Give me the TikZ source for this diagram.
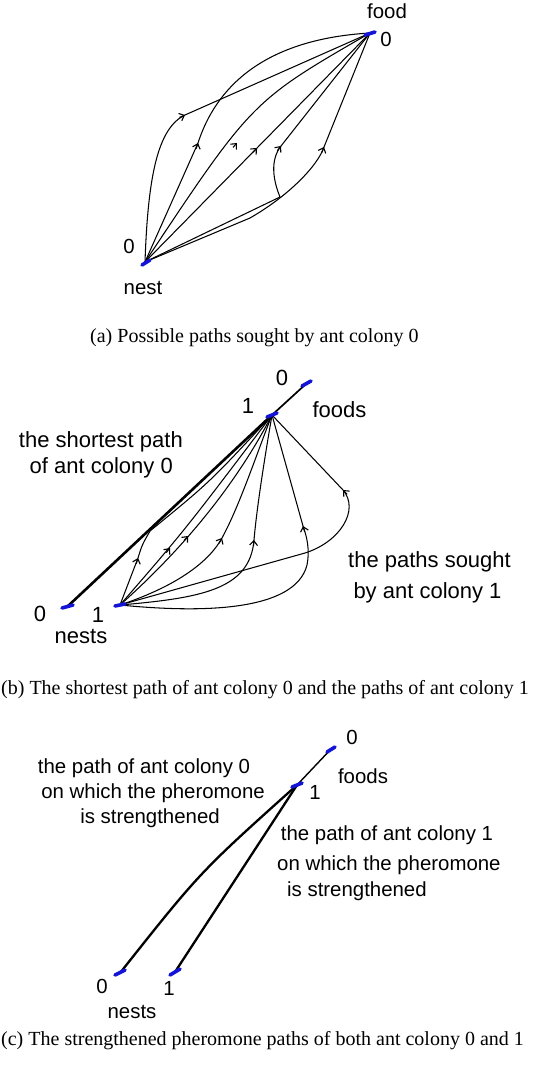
\documentclass[tikz,border=0pt]{standalone}
\usepackage{fontspec}
\setmainfont{Liberation Serif}
\newfontfamily\lblfont{Liberation Sans}
\usetikzlibrary{arrows.meta,calc}
\definecolor{dotblue}{RGB}{20,20,215}
\tikzset{
  pathline/.style={line width=1.05pt,black},
  antarrow/.style={line width=1.1pt,-{Straight Barb[length=4.5pt,width=8pt]}},
  bluedot/.style={line width=3.6pt,dotblue,line cap=round},
  lblA/.style={font=\lblfont\fontsize{20.4}{24}\selectfont,inner sep=0pt,anchor=base},
  lblB/.style={font=\lblfont\fontsize{22}{26}\selectfont,inner sep=0pt,anchor=base},
  captxt/.style={font=\fontsize{20}{24}\selectfont,inner sep=0pt,anchor=base west},
}
\newcommand\antarr[2]{\draw[antarrow] ($(#1)!-6pt!(#2)$) -- (#1);}
\begin{document}
\begin{tikzpicture}[x=1pt,y=-1pt]
\useasboundingbox (0,0) rectangle (548,1065);
\fill[white] (0,0) rectangle (548,1065);

% ---------------- panel (a)
\coordinate (fa) at (370,33);
\coordinate (na) at (145,262);
\draw[pathline] (na) .. controls (148,175) and (158,128) .. (185,115) -- (fa);
\antarr{185,115}{fa}
\draw[pathline] (na) -- (198,143) .. controls (212,100) and (250,40) .. (fa);
\antarr{198,143}{212,100}
\draw[pathline] (na) .. controls (252,101) .. (fa);
\antarr{237,143}{259,119}
\draw[pathline] (na) -- (fa);
\antarr{257,148}{fa}
\draw[pathline] (na) -- (280,197) .. controls (273,180) and (270,160) .. (281,146) -- (fa);
\antarr{281,146}{fa}
\draw[pathline] (na) -- (250,218) .. controls (290,195) and (318,165) .. (324,147) -- (fa);
\antarr{324,147}{fa}
\draw[bluedot] (365,35) -- (375,32);
\draw[bluedot] (142,265) -- (150,260);
\node[lblA] (foodA) at (387,18.5) {food};
\node[lblA] (zfA) at (386,47) {0};
\node[lblA] (znA) at (129,253) {0};
\node[lblA] (nestA) at (143,294) {nest};
\node[captxt] (capA) at (90,342) {(a) Possible paths sought by ant colony 0};

% ---------------- panel (b)
\coordinate (fb0) at (307,383);
\coordinate (fb1) at (272,415);
\coordinate (nb0) at (68,606);
\coordinate (nb1) at (120,605);
\draw[line width=1.7pt] (fb0) -- (fb1);
\draw[line width=2.6pt] (fb1) -- (nb0);
\draw[pathline] (nb1) -- (138,558) .. controls (142,545) .. (150,531) .. controls (210,482) .. (fb1);
\antarr{138,558}{142,545}
\draw[pathline] (nb1) .. controls (185,530) .. (fb1);
\antarr{170,548}{184.5,530}
\draw[pathline] (nb1) .. controls (165,565) and (228,500) .. (fb1);
\antarr{188,536}{215,505}
\draw[pathline] (nb1) .. controls (180,585) and (210,560) .. (222,538) .. controls (240,505) and (258,450) .. (fb1);
\antarr{222,538}{240,505}
\draw[pathline] (nb1) .. controls (200,598) and (250,590) .. (254,540) .. controls (257,505) and (266,450) .. (fb1);
\antarr{254,540}{257,505}
\draw[pathline] (nb1) .. controls (200,613) and (295,612) .. (307,565) .. controls (310,550) and (307,537) .. (303,526) -- (fb1);
\antarr{303,526}{fb1}
\draw[pathline] (nb1) -- (305,553) .. controls (340,542) and (360,510) .. (343,490) -- (fb1);
\antarr{343,490}{fb1}
\draw[bluedot] (302,386) -- (311,381);
\draw[bluedot] (267,417) -- (277,413);
\draw[bluedot] (62,608) -- (73,605);
\draw[bluedot] (115,606) -- (125,604);
\node[lblB] (zfB) at (282,385) {0};
\node[lblB] (ofB) at (248,413) {1};
\node[lblB] (foodsB) at (339.5,417) {foods};
\node[lblB,anchor=base east] (sp1) at (183,447) {the shortest path};
\node[lblB,anchor=base east] (sp2) at (173,473) {of ant colony 0};
\node[lblB] (ps1) at (429.5,567) {the paths sought};
\node[lblB] (ps2) at (427.5,598) {by ant colony 1};
\node[lblB] (znB) at (40,621) {0};
\node[lblB] (onB) at (98,622) {1};
\node[lblB] (nestsB) at (81,643) {nests};
\node[captxt] (capB) at (1,694) {(b) The shortest path of ant colony 0 and the paths of ant colony 1};

% ---------------- panel (c)
\coordinate (fc0) at (332,748);
\coordinate (fc1) at (297,785);
\coordinate (nc0) at (120,973);
\coordinate (nc1) at (175,972);
\draw[line width=1.4pt] (fc0) -- (fc1);
\draw[line width=2.3pt] (nc0) .. controls (200,872) .. (fc1);
\draw[line width=2.3pt] (nc1) -- (fc1);
\draw[bluedot] (327,752) -- (335,747);
\draw[bluedot] (292,787) -- (302,783);
\draw[bluedot] (115,975) -- (125,970);
\draw[bluedot] (170,975) -- (180,969);
\node[lblA] (zfC) at (352,744) {0};
\node[lblA] (foodsC) at (363,783) {foods};
\node[lblA] (ofC) at (315,799) {1};
\node[lblA] (l01) at (144,773) {the path of ant colony 0};
\node[lblA,anchor=base east] (l02) at (265,798) {on which the pheromone};
\node[lblA] (l03) at (150,823) {is strengthened};
\node[lblA] (l11) at (387,840) {the path of ant colony 1};
\node[lblA,anchor=base west] (l12) at (277,870) {on which the pheromone};
\node[lblA,anchor=base west] (l13) at (287,896) {is strengthened};
\node[lblA] (znC) at (102,993) {0};
\node[lblA] (onC) at (169,995) {1};
\node[lblA] (nestsC) at (132,1018) {nests};
\node[captxt] (capC) at (1,1045) {(c) The strengthened pheromone paths of both ant colony 0 and 1};
\end{tikzpicture}
\end{document}
